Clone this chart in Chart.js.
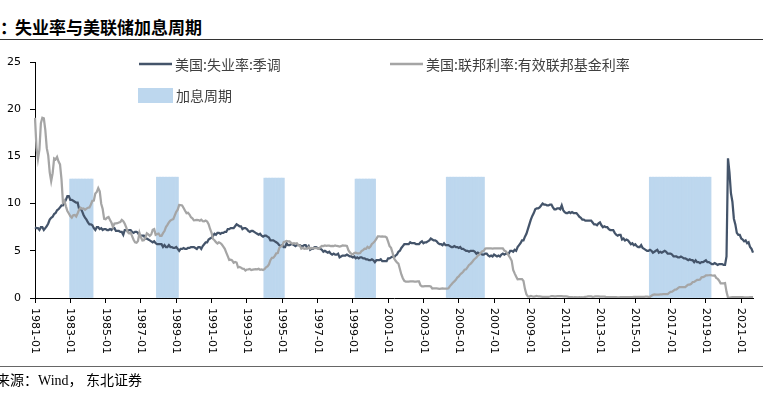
<!DOCTYPE html>
<html>
<head>
<meta charset="utf-8">
<script src="https://cdn.jsdelivr.net/npm/chart.js@4"></script>
<style>
  html,body{margin:0;padding:0;background:#fff;}
  #wrap{position:relative;width:777px;height:393px;overflow:hidden;background:#fff;}
  #c{position:absolute;left:0;top:0;}
  .t{position:absolute;white-space:nowrap;}
</style>
</head>
<body>
<div id="wrap">
  <div class="t" style="left:0px;top:17px;font:bold 17px 'Noto Sans CJK SC';line-height:19px;color:#000;">：</div>
  <div class="t" style="left:15px;top:17px;font:bold 17px 'Noto Sans CJK SC';line-height:19px;color:#000;">失业率与美联储加息周期</div>
  <div class="t" style="left:0;top:39px;width:763px;height:1px;background:#333;"></div>
  <canvas id="c" width="777" height="393"></canvas>
  <div class="t" style="left:0;top:366px;width:763px;height:1px;background:#666;"></div>
  <div class="t" style="left:-4px;top:372px;font:14px 'Liberation Serif','Noto Sans CJK SC';line-height:17px;color:#000;">来源：Wind， 东北证券</div>
</div>
<script>
// ---- data ----
const startYear = 1981;
const tickLabels = ['1981-01','1983-01','1985-01','1987-01','1989-01','1991-01','1993-01','1995-01','1997-01','1999-01','2001-01','2003-01','2005-01','2007-01','2009-01','2011-01','2013-01','2015-01','2017-01','2019-01','2021-01'];

const unemployment = [
7.5,7.4,7.4,7.2,7.5,7.5,7.2,7.4,7.6,7.9,8.3,8.5,
8.6,8.9,9.0,9.3,9.4,9.6,9.8,9.8,10.1,10.4,10.8,10.8,
10.4,10.4,10.3,10.2,10.1,10.1,9.4,9.5,9.2,8.8,8.5,8.3,
8.0,7.8,7.8,7.7,7.4,7.2,7.5,7.5,7.3,7.4,7.2,7.3,
7.3,7.2,7.2,7.3,7.2,7.4,7.4,7.1,7.1,7.1,7.0,7.0,
6.7,7.2,7.2,7.1,7.2,7.2,7.0,6.9,7.0,7.0,6.9,6.6,
6.6,6.6,6.6,6.3,6.3,6.2,6.1,6.0,5.9,6.0,5.8,5.7,
5.7,5.7,5.7,5.4,5.6,5.4,5.4,5.6,5.4,5.4,5.3,5.3,
5.4,5.2,5.0,5.2,5.2,5.3,5.2,5.2,5.3,5.3,5.4,5.4,
5.4,5.3,5.2,5.4,5.4,5.2,5.5,5.7,5.9,5.9,6.2,6.3,
6.4,6.6,6.8,6.7,6.9,6.9,6.8,6.9,6.9,7.0,7.0,7.3,
7.3,7.4,7.4,7.4,7.6,7.8,7.7,7.6,7.6,7.3,7.4,7.4,
7.3,7.1,7.0,7.1,7.1,7.0,6.9,6.8,6.7,6.8,6.6,6.5,
6.6,6.6,6.5,6.4,6.1,6.1,6.1,6.0,5.9,5.8,5.6,5.5,
5.6,5.4,5.4,5.8,5.6,5.6,5.7,5.7,5.6,5.5,5.6,5.6,
5.6,5.5,5.5,5.6,5.6,5.3,5.5,5.1,5.2,5.2,5.4,5.4,
5.3,5.2,5.2,5.1,4.9,5.0,4.9,4.8,4.9,4.7,4.6,4.7,
4.6,4.6,4.7,4.3,4.4,4.5,4.5,4.5,4.6,4.5,4.4,4.4,
4.3,4.4,4.2,4.3,4.2,4.3,4.3,4.2,4.2,4.1,4.1,4.0,
4.0,4.1,4.0,3.8,4.0,4.0,4.0,4.1,3.9,3.9,3.9,3.9,
4.2,4.2,4.3,4.4,4.3,4.5,4.6,4.9,5.0,5.3,5.5,5.7,
5.7,5.7,5.7,5.9,5.8,5.8,5.8,5.7,5.7,5.7,5.9,6.0,
5.8,5.9,5.9,6.0,6.1,6.3,6.2,6.1,6.1,6.0,5.8,5.7,
5.7,5.6,5.8,5.6,5.6,5.6,5.5,5.4,5.4,5.5,5.4,5.4,
5.3,5.4,5.2,5.2,5.1,5.0,5.0,4.9,5.0,5.0,5.0,4.9,
4.7,4.8,4.7,4.7,4.6,4.6,4.7,4.7,4.5,4.4,4.5,4.4,
4.6,4.5,4.4,4.5,4.4,4.6,4.7,4.6,4.7,4.7,4.7,5.0,
5.0,4.9,5.1,5.0,5.4,5.6,5.8,6.1,6.1,6.5,6.8,7.3,
7.8,8.3,8.7,9.0,9.4,9.5,9.5,9.6,9.8,10.0,9.9,9.9,
9.8,9.8,9.9,9.9,9.6,9.4,9.4,9.5,9.5,9.4,9.8,9.3,
9.1,9.0,9.0,9.1,9.0,9.1,9.0,9.0,9.0,8.8,8.6,8.5,
8.3,8.3,8.2,8.2,8.2,8.2,8.2,8.0,7.8,7.8,7.7,7.9,
8.0,7.7,7.5,7.6,7.5,7.5,7.3,7.2,7.2,7.2,6.9,6.7,
6.6,6.7,6.7,6.2,6.3,6.1,6.2,6.1,5.9,5.7,5.8,5.6,
5.7,5.5,5.4,5.4,5.6,5.3,5.2,5.1,5.0,5.0,5.1,5.0,
4.8,4.9,5.0,5.1,4.8,4.9,4.8,4.9,5.0,4.9,4.7,4.7,
4.7,4.6,4.4,4.4,4.4,4.3,4.3,4.4,4.3,4.2,4.2,4.1,
4.0,4.1,4.0,4.0,3.8,4.0,3.8,3.8,3.7,3.8,3.8,3.9,
4.0,3.8,3.8,3.7,3.6,3.6,3.7,3.6,3.5,3.6,3.6,3.6,
3.5,3.5,4.4,14.8,13.3,11.1,10.2,8.4,7.8,6.9,6.7,6.7,
6.3,6.2,6.0,6.1,5.8,5.9,5.4,5.2,4.8
];

const fedFunds = [
19.08,15.93,14.70,15.72,18.52,19.10,19.04,17.82,15.87,15.08,13.31,12.37,
13.22,14.78,14.68,14.94,14.45,14.15,12.59,10.12,10.31,9.71,9.20,8.95,
8.68,8.51,8.77,8.80,8.63,8.98,9.37,9.56,9.45,9.48,9.34,9.47,
9.56,9.59,9.91,10.29,10.32,11.06,11.23,11.64,11.30,9.99,9.43,8.38,
8.35,8.50,8.58,8.27,7.97,7.53,7.88,7.90,7.92,7.99,8.05,8.27,
8.14,7.86,7.48,6.99,6.85,6.92,6.56,6.17,5.89,5.85,6.04,6.91,
6.43,6.10,6.13,6.37,6.85,6.73,6.58,6.73,7.22,7.29,6.69,6.77,
6.83,6.58,6.58,6.87,7.09,7.51,7.75,8.01,8.19,8.30,8.35,8.76,
9.12,9.36,9.85,9.84,9.81,9.53,9.24,8.99,9.02,8.84,8.55,8.45,
8.23,8.24,8.28,8.26,8.18,8.29,8.15,8.13,8.20,8.11,7.81,7.31,
6.91,6.25,6.12,5.91,5.78,5.90,5.82,5.66,5.45,5.21,4.81,4.43,
4.03,4.06,3.98,3.73,3.82,3.76,3.25,3.30,3.22,3.10,3.09,2.92,
3.02,3.03,3.07,2.96,3.00,3.04,3.06,3.03,3.09,2.99,3.02,2.96,
3.05,3.25,3.34,3.56,4.01,4.25,4.26,4.47,4.73,4.76,5.29,5.45,
5.53,5.92,5.98,6.05,6.01,6.00,5.85,5.74,5.80,5.76,5.80,5.60,
5.56,5.22,5.31,5.22,5.24,5.27,5.40,5.22,5.30,5.24,5.31,5.29,
5.25,5.19,5.39,5.51,5.50,5.56,5.52,5.54,5.54,5.50,5.52,5.50,
5.56,5.51,5.49,5.45,5.49,5.56,5.54,5.55,5.51,5.07,4.83,4.68,
4.63,4.76,4.81,4.74,4.74,4.76,4.99,5.07,5.22,5.20,5.42,5.30,
5.45,5.73,5.85,6.02,6.27,6.53,6.54,6.50,6.52,6.51,6.51,6.40,
5.98,5.49,5.31,4.80,4.21,3.97,3.77,3.65,3.07,2.49,2.09,1.82,
1.73,1.74,1.73,1.75,1.75,1.75,1.73,1.74,1.75,1.75,1.34,1.24,
1.24,1.26,1.25,1.26,1.26,1.22,1.01,1.03,1.01,1.01,1.00,0.98,
1.00,1.01,1.00,1.00,1.00,1.03,1.26,1.43,1.61,1.76,1.93,2.16,
2.28,2.50,2.63,2.79,3.00,3.04,3.26,3.50,3.62,3.78,4.00,4.16,
4.29,4.49,4.59,4.79,4.94,4.99,5.24,5.25,5.25,5.25,5.25,5.24,
5.25,5.26,5.26,5.25,5.25,5.25,5.26,5.02,4.94,4.76,4.49,4.24,
3.94,2.98,2.61,2.28,1.98,2.00,2.01,2.00,1.81,0.97,0.39,0.16,
0.15,0.22,0.18,0.15,0.18,0.21,0.16,0.16,0.15,0.12,0.12,0.12,
0.11,0.13,0.16,0.20,0.20,0.18,0.18,0.19,0.19,0.19,0.19,0.18,
0.17,0.16,0.14,0.10,0.09,0.09,0.07,0.10,0.08,0.07,0.08,0.07,
0.08,0.10,0.13,0.14,0.16,0.16,0.16,0.13,0.14,0.16,0.16,0.16,
0.14,0.15,0.14,0.15,0.11,0.09,0.09,0.08,0.08,0.09,0.08,0.09,
0.07,0.07,0.08,0.09,0.09,0.10,0.09,0.09,0.09,0.09,0.09,0.12,
0.11,0.11,0.11,0.12,0.12,0.13,0.13,0.14,0.14,0.12,0.12,0.24,
0.34,0.38,0.36,0.37,0.37,0.38,0.39,0.40,0.40,0.40,0.41,0.54,
0.65,0.66,0.79,0.90,0.91,1.04,1.15,1.16,1.15,1.15,1.16,1.30,
1.41,1.42,1.51,1.69,1.70,1.82,1.91,1.91,1.95,2.19,2.20,2.27,
2.40,2.40,2.41,2.42,2.39,2.38,2.40,2.13,2.04,1.83,1.55,1.55,
1.55,1.58,0.65,0.05,0.05,0.08,0.09,0.10,0.09,0.09,0.09,0.09,
0.09,0.08,0.07,0.07,0.06,0.08,0.10,0.09,0.08
];

const cycleStart = ['1983-01','1987-12','1994-01','1999-03','2004-05','2015-11'];
const cycleEnd   = ['1984-04','1989-02','1995-02','2000-04','2006-06','2019-04'];
const cycleTop   = [12.6,12.8,12.7,12.6,12.8,12.8];

const seriesNames = ['美国:失业率:季调','美国:联邦利率:有效联邦基金利率','加息周期'];

// ---- build categories (monthly) ----
const categories = [];
for (let i = 0; i < unemployment.length; i++) {
  const y = startYear + Math.floor(i / 12);
  const m = (i % 12) + 1;
  categories.push(y + '-' + (m < 10 ? '0' + m : m));
}
const cycleData = categories.map(() => null);
cycleStart.forEach((s, k) => {
  const a = categories.indexOf(s), b = categories.indexOf(cycleEnd[k]);
  for (let i = a; i <= b; i++) cycleData[i] = cycleTop[k];
});

const COL_U = '#44546A', COL_F = '#A5A5A5', COL_B = '#BDD7EE';

// custom clockwise-rotated x tick labels + legend
const decor = {
  id: 'decor',
  afterDraw(chart) {
    const ctx = chart.ctx;
    const xs = chart.scales.x;
    ctx.save();
    ctx.fillStyle = '#000';
    ctx.font = '11px "DejaVu Sans"';
    ctx.textAlign = 'left';
    ctx.textBaseline = 'middle';
    categories.forEach((c, i) => {
      if (!tickLabels.includes(c)) return;
      const x = xs.getPixelForValue(i);
      ctx.save();
      ctx.translate(x, xs.top + 10);
      ctx.rotate(Math.PI / 2);
      ctx.fillText(c, 0, 0);
      ctx.restore();
    });
    ctx.restore();

    // legend
    const ds = chart.data.datasets;
    ctx.save();
    ctx.font = '14px "Noto Sans CJK SC"';
    ctx.textBaseline = 'middle';
    ctx.fillStyle = '#404040';
    const items = [
      {d: ds[0], x: 139, y: 64},
      {d: ds[1], x: 390, y: 64}
    ];
    items.forEach(it => {
      ctx.strokeStyle = it.d.borderColor;
      ctx.lineWidth = 2.5;
      ctx.beginPath();
      ctx.moveTo(it.x, it.y);
      ctx.lineTo(it.x + 33, it.y);
      ctx.stroke();
      ctx.fillText(it.d.label, it.x + 36, it.y + 1);
    });
    ctx.fillStyle = ds[2].backgroundColor;
    ctx.fillRect(138, 88, 35, 15);
    ctx.fillStyle = '#404040';
    ctx.fillText(ds[2].label, 176, 96);
    ctx.restore();
  }
};

new Chart(document.getElementById('c'), {
  type: 'line',
  data: {
    labels: categories,
    datasets: [
      {
        label: seriesNames[0], data: unemployment,
        borderColor: COL_U, backgroundColor: COL_U, borderWidth: 2.25,
        pointRadius: 0, tension: 0, order: 2
      },
      {
        label: seriesNames[1], data: fedFunds,
        borderColor: COL_F, backgroundColor: COL_F, borderWidth: 2.25,
        pointRadius: 0, tension: 0, order: 1
      },
      {
        type: 'bar', label: seriesNames[2], data: cycleData,
        backgroundColor: COL_B, borderWidth: 0,
        barPercentage: 1, categoryPercentage: 1, order: 3
      }
    ]
  },
  options: {
    responsive: false,
    animation: false,
    events: [],
    layout: { padding: { left: 0, top: 62, right: 24, bottom: 0 } },
    plugins: { legend: { display: false }, tooltip: { enabled: false }, title: { display: false } },
    scales: {
      x: {
        type: 'category',
        offset: false,
        grid: {
          offset: false,
          drawOnChartArea: false,
          drawTicks: true,
          tickLength: 5,
          color: c => tickLabels.includes(categories[c.index]) ? '#000' : 'rgba(0,0,0,0)'
        },
        border: { display: true, color: '#000', width: 1 },
        ticks: { display: false, autoSkip: false },
        afterFit: s => { s.height = 95; }
      },
      y: {
        min: 0, max: 25,
        grid: { drawOnChartArea: false, drawTicks: true, tickLength: 5, color: '#000' },
        border: { display: true, color: '#000', width: 1 },
        ticks: { stepSize: 5, padding: 9, color: '#000', font: { family: 'DejaVu Sans', size: 11 } },
        afterFit: s => { s.width = 35; }
      }
    }
  },
  plugins: [decor]
});
</script>
</body>
</html>
